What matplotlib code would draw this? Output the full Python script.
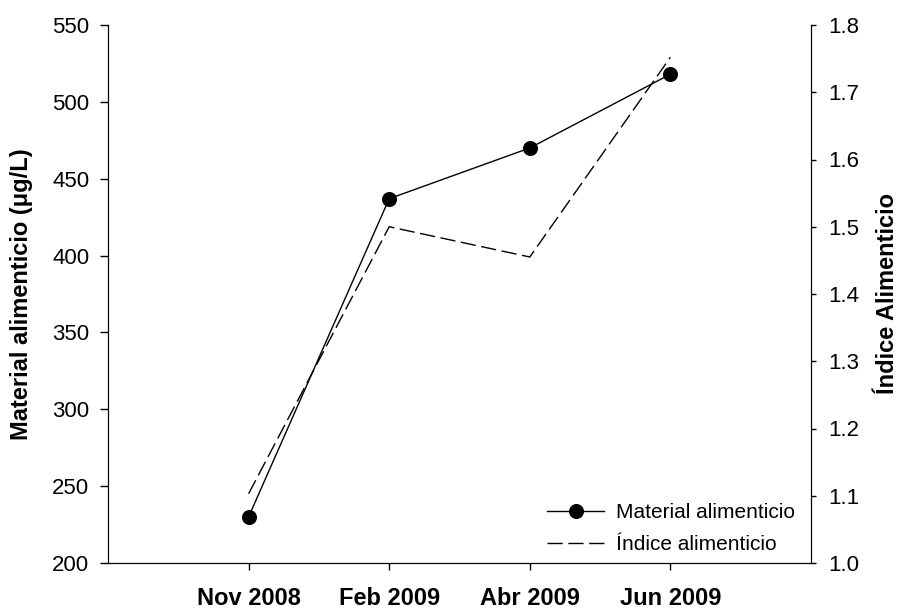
import matplotlib
matplotlib.use('Agg')
import matplotlib.pyplot as plt
import numpy as np

plt.rcParams['font.family'] = ['Liberation Sans', 'DejaVu Sans']

# data
fechas = ['Nov 2008', 'Feb 2009', 'Abr 2009', 'Jun 2009']
material = [230, 437, 470, 518]       # ug/L
indice = [1.103, 1.50, 1.455, 1.752]

x = np.arange(len(fechas))

fig = plt.figure(figsize=(9.02, 6.10), dpi=100)
ax = fig.add_axes([108/902, 47/610, 703/902, 538/610])
ax2 = ax.twinx()

l1, = ax.plot(x, material, color='k', lw=1, marker='o', ms=9.8,
              label='Material alimenticio')
l2, = ax2.plot(x, indice, color='k', lw=1, dashes=(11, 4),
               label='Índice alimenticio')

ax.set_xlim(-1.0, 4.0)
ax.set_ylim(200, 550)
ax.set_yticks(np.arange(200, 551, 50))
ax2.set_ylim(1.0, 1.8)
ax2.set_yticks(np.arange(1.0, 1.81, 0.1))
ax2.set_yticklabels(['%.1f' % v for v in np.arange(1.0, 1.81, 0.1)])

ax.set_xticks(x)
ax.set_xticklabels(fechas, fontweight='bold', fontsize=17)

for a in (ax, ax2):
    a.spines['top'].set_visible(False)
ax.tick_params(axis='y', direction='out', length=5.5, width=1, labelsize=16, pad=8)
ax2.tick_params(axis='y', direction='out', length=3.5, width=1, labelsize=16, pad=9)
ax.tick_params(axis='x', direction='out', length=5, width=1, pad=12)

ax.set_ylabel('Material alimenticio (μg/L)', fontweight='bold', fontsize=17)
ax.yaxis.set_label_coords(-0.107, 0.5)
ax2.set_ylabel('Índice Alimenticio', fontweight='bold', fontsize=17)
ax2.yaxis.set_label_coords(1.093, 0.5)

ax2.legend(handles=[l1, l2], loc='lower right', frameon=False, fontsize=15,
           handlelength=2.75, handletextpad=0.55, labelspacing=0.62,
           borderpad=0, borderaxespad=0, bbox_to_anchor=(0.977, 0.017))

fig.savefig('out.png', dpi=100)
